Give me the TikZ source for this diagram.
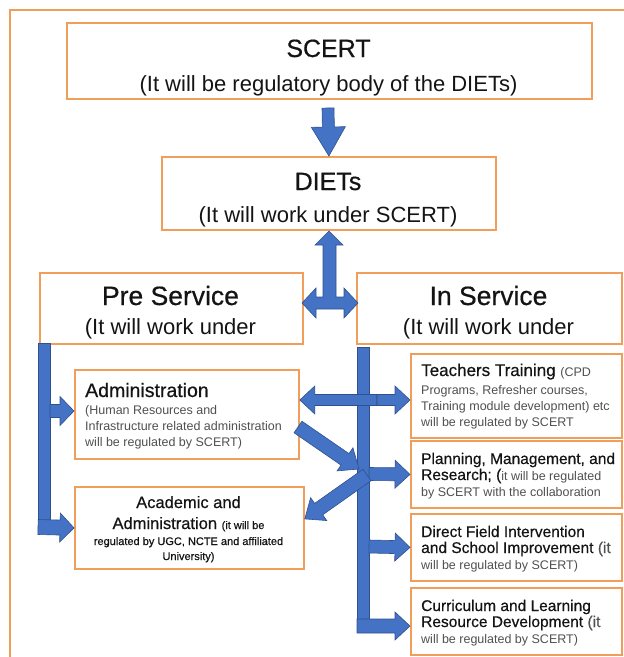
\documentclass[tikz,border=0pt]{standalone}
\usepackage{fontspec}
\setmainfont{Liberation Sans}
\newfontfamily\titlefont{Liberation Sans}[FakeBold=0.5]
\usetikzlibrary{calc}

\definecolor{boxorange}{RGB}{240,158,90}
\definecolor{arrblue}{RGB}{68,114,196}
\definecolor{arrline}{RGB}{47,82,143}
\definecolor{ink}{RGB}{20,20,20}
\definecolor{notegray}{RGB}{80,80,80}

\newcommand{\notefont}{\normalfont\fontsize{12.5}{15}\selectfont\color{notegray}}

% block arrow: from, to, shaft half width, head half width, head length
\newcommand{\barrow}[5]{%
  \draw[arr] let \p1=(#1), \p2=(#2), \n1={atan2(\y2-\y1,\x2-\x1)} in
    ($(\p1)+(\n1+90:#3)$) -- ($(\p2)+(\n1+180:#5)+(\n1+90:#3)$)
    -- ($(\p2)+(\n1+180:#5)+(\n1+90:#4)$) -- (\p2)
    -- ($(\p2)+(\n1+180:#5)+(\n1-90:#4)$) -- ($(\p2)+(\n1+180:#5)+(\n1-90:#3)$)
    -- ($(\p1)+(\n1-90:#3)$) -- cycle;
}

\begin{document}
\begin{tikzpicture}[x=1pt,y=-1pt,
    box/.style={draw=boxorange, line width=1.8pt, fill=white, inner sep=0pt, anchor=north west},
    arr/.style={fill=arrblue, draw=arrline, line width=0.6pt, line join=miter},
    bigtitle/.style={inner sep=0pt, anchor=base, text=ink, font=\titlefont\fontsize{25}{30}\selectfont},
    subtitle/.style={inner sep=0pt, anchor=base, text=ink, font=\fontsize{22}{26}\selectfont},
    boxtitle/.style={inner sep=0pt, anchor=base west, text=ink, font=\titlefont\fontsize{15.5}{18}\selectfont},
    boxnote/.style={inner sep=0pt, anchor=base west, text=notegray, font=\fontsize{12.5}{15}\selectfont}]
  \useasboundingbox (0,0) rectangle (624,657);
  \clip (0,0) rectangle (624,657);

  % outer frame
  \draw[draw=boxorange, line width=1.8pt] (10,700) -- (10,10) -- (700,10);

  % SCERT and DIETs
  \node[box, minimum width=525pt, minimum height=76pt] (scert) at (66,22) {};
  \node[bigtitle] (scertT) at (328.5,57) {SCERT};
  \node[subtitle] (scertS) at (328.5,91) {(It will be regulatory body of the DIETs)};

  \node[box, minimum width=334pt, minimum height=73pt] (diets) at (161,156) {};
  \node[bigtitle] (dietsT) at (328,190) {DIETs};
  \node[subtitle] (dietsS) at (328,222) {(It will work under SCERT)};

  % Pre Service / In Service
  \node[box, minimum width=263pt, minimum height=71pt] (pre) at (39,272) {};
  \node[bigtitle, font=\titlefont\fontsize{26.5}{30}\selectfont] (preT) at (170.5,305) {Pre Service};
  \node[subtitle] (preS) at (170.5,334) {(It will work under};

  \node[box, minimum width=265pt, minimum height=71pt] (insvc) at (356,272) {};
  \node[bigtitle, font=\titlefont\fontsize{26.5}{30}\selectfont] (insvcT) at (488.5,305) {In Service};
  \node[subtitle] (insvcS) at (488.5,334) {(It will work under};

  % Pre Service branches
  \node[box, minimum width=224pt, minimum height=89pt] (adm) at (74,369) {};
  \node[boxtitle, font=\titlefont\fontsize{19.5}{22}\selectfont] (admT) at (85,397) {Administration};
  \node[boxnote] (adm1) at (85,414) {(Human Resources and};
  \node[boxnote] (adm2) at (85,430) {Infrastructure related administration};
  \node[boxnote] (adm3) at (85,446) {will be regulated by SCERT)};

  \node[box, minimum width=229pt, minimum height=82pt] (acad) at (74,486) {};
  \node[boxtitle, anchor=base, font=\titlefont\fontsize{16.5}{19}\selectfont] (acadT) at (188.5,508) {Academic and};
  \node[boxtitle, anchor=base, font=\titlefont\fontsize{16.5}{19}\selectfont] (acad1) at (188.5,529)
    {Administration {\fontsize{11}{13}\selectfont (it will be}};
  \node[boxnote, anchor=base, text=ink, font=\titlefont\fontsize{11}{13}\selectfont] (acad2) at (188.5,545)
    {regulated by UGC, NCTE and affiliated};
  \node[boxnote, anchor=base, text=ink, font=\titlefont\fontsize{11}{13}\selectfont] (acad3) at (188.5,560) {University)};

  % In Service branches
  \node[box, minimum width=211pt, minimum height=84pt] (teach) at (410,353) {};
  \node[boxtitle] (teachT) at (421,376) {\fontsize{17}{20}\selectfont Teachers Training {\notefont(CPD}};
  \node[boxnote] (teach1) at (421,394) {Programs, Refresher courses,};
  \node[boxnote] (teach2) at (421,410) {Training module development) etc};
  \node[boxnote] (teach3) at (421,426) {will be regulated by SCERT};

  \node[box, minimum width=211pt, minimum height=67pt] (plan) at (410,440) {};
  \node[boxtitle] (planT) at (421,464) {Planning, Management, and};
  \node[boxtitle] (plan1) at (421,480) {Research; ({\notefont it will be regulated}};
  \node[boxnote] (plan2) at (421,496) {by SCERT with the collaboration};

  \node[box, minimum width=211pt, minimum height=67pt] (field) at (410,513) {};
  \node[boxtitle] (fieldT) at (421,537) {Direct Field Intervention};
  \node[boxtitle] (field1) at (421,553) {and School Improvement {\color{notegray}(it}};
  \node[boxnote] (field2) at (421,569) {will be regulated by SCERT)};

  \node[box, minimum width=211pt, minimum height=67pt] (curr) at (410,587) {};
  \node[boxtitle] (currT) at (421,611) {Curriculum and Learning};
  \node[boxtitle] (curr1) at (421,627) {Resource Development {\color{notegray}(it}};
  \node[boxnote] (curr2) at (421,643) {will be regulated by SCERT)};

  % SCERT -> DIETs
  \coordinate (scertout) at (328,108);
  \barrow{scertout}{diets.north}{6pt}{17pt}{29pt}

  % DIETs <-> Pre / In Service
  \draw[arr] (329,231) -- (343,245) -- (336,245) -- (336,297) -- (344,297) -- (344,288)
    -- (358,303) -- (344,318) -- (344,309) -- (316,309) -- (316,318) -- (302,303)
    -- (316,288) -- (316,297) -- (323,297) -- (323,245) -- (315,245) -- cycle;

  % Pre Service bar
  \draw[arr] (38,343) rectangle (50,521);
  \coordinate (prea) at (50,411);
  \coordinate (preb) at (38,527);
  \barrow{prea}{adm.west |- prea}{6.5pt}{14.5pt}{14pt}
  \barrow{preb}{acad.west}{7.5pt}{14.5pt}{14pt}

  % In Service bar
  \draw[arr] (357,347) rectangle (369,621);
  \coordinate (tmid) at (377,400);
  \barrow{tmid}{adm.east |- tmid}{5.5pt}{14pt}{15pt}
  \barrow{tmid}{teach.west |- tmid}{5.5pt}{14pt}{15pt}
  \coordinate (admout) at (298,427);
  \coordinate (barin) at (359,469);
  \barrow{admout}{barin}{7pt}{14pt}{17pt}
  \coordinate (pc) at (369,474);
  \barrow{pc}{plan.west}{6.5pt}{14pt}{15pt}
  \coordinate (barout) at (367,475);
  \barrow{barout}{$(acad.east)+(0,-9)$}{7pt}{14pt}{17pt}
  \coordinate (fc) at (369,546.5);
  \barrow{fc}{field.west}{6.5pt}{14pt}{15pt}
  \coordinate (cc) at (357,626);
  \barrow{cc}{curr.west |- cc}{7pt}{14pt}{15pt}
\end{tikzpicture}
\end{document}
